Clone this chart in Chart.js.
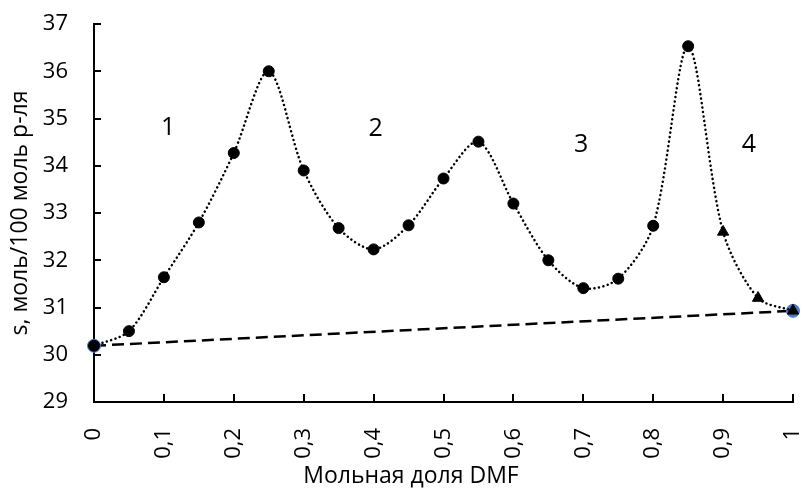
<!DOCTYPE html>
<html>
<head>
<meta charset="utf-8">
<script src="https://cdn.jsdelivr.net/npm/chart.js@4.4.1/dist/chart.umd.min.js"></script>
<style>
  html, body { margin: 0; padding: 0; background: #fff; }
  #wrap { width: 802px; height: 488px; }
</style>
</head>
<body>
<div id="wrap"><canvas id="dmfChart" width="802" height="488"></canvas></div>
<script>
// mole fraction of DMF and solubility s (mol / 100 mol solvent)
const molFraction = [0, 0.05, 0.1, 0.15, 0.2, 0.25, 0.3, 0.35, 0.4, 0.45, 0.5,
                     0.55, 0.6, 0.65, 0.7, 0.75, 0.8, 0.85, 0.9, 0.95, 1];
const solubility = [30.19, 30.5, 31.64, 32.8, 34.27, 36.0, 33.9, 32.68, 32.23, 32.74, 33.73,
                    34.51, 33.2, 32.0, 31.41, 31.61, 32.73, 36.53, 32.6, 31.2, 30.93];

// straight (additive) line between the two pure solvents
const idealX = [0, 1];
const idealY = [30.19, 30.93];

// region numbers
const regionText = ['1', '2', '3', '4'];
const regionX = [0.106, 0.403, 0.697, 0.937];
const regionY = [34.8, 34.77, 34.44, 34.45];

const xTickLabels = ['0', '0,1', '0,2', '0,3', '0,4', '0,5', '0,6', '0,7', '0,8', '0,9', '1'];
const xTitle = 'Мольная доля DMF';
const yTitle = 's, моль/100 моль р-ля';

Chart.defaults.font.family = '"Open Sans", sans-serif';
Chart.defaults.color = '#000';

// numbers 1-4 and the axis titles
const textPlugin = {
  id: 'textPlugin',
  afterDraw(chart) {
    const { ctx, scales: { x, y } } = chart;
    ctx.save();
    ctx.fillStyle = '#000';
    ctx.textAlign = 'center';
    ctx.textBaseline = 'middle';
    ctx.font = '25px "Open Sans"';
    regionText.forEach((t, i) => {
      ctx.fillText(t, x.getPixelForValue(regionX[i]), y.getPixelForValue(regionY[i]));
    });
    ctx.textBaseline = 'alphabetic';
    ctx.font = '23px "Open Sans"';
    ctx.fillText(xTitle, 411, 483);
    ctx.translate(27, 213);
    ctx.rotate(-Math.PI / 2);
    ctx.fillText(yTitle, 0, 0);
    ctx.restore();
  }
};

const ctx = document.getElementById('dmfChart').getContext('2d');
new Chart(ctx, {
  type: 'line',
  data: {
    datasets: [{
      label: 's',
      data: molFraction.map((v, i) => ({ x: v, y: solubility[i] })),
      borderColor: '#000',
      borderWidth: 2.5,
      borderDash: [0.1, 4.4],
      borderCapStyle: 'round',
      tension: 0.3,
      fill: false,
      clip: false,
      pointStyle: molFraction.map((v, i) => i >= 18 ? 'triangle' : 'circle'),
      pointRadius: molFraction.map((v, i) => i >= 18 ? 6.5 : 5.5),
      pointBackgroundColor: '#000',
      pointBorderColor: '#000',
      pointBorderWidth: 1
    }, {
      label: 'ideal',
      data: idealX.map((v, i) => ({ x: v, y: idealY[i] })),
      borderColor: '#000',
      borderWidth: 2.5,
      borderDash: [12, 6],
      tension: 0,
      fill: false,
      clip: false,
      pointRadius: 6.5,
      pointBackgroundColor: '#4a7bc8',
      pointBorderColor: '#4a7bc8',
      pointBorderWidth: 1
    }]
  },
  options: {
    responsive: false,
    animation: false,
    events: [],
    layout: { padding: { top: 24, right: 9, bottom: 0, left: 0 } },
    plugins: {
      legend: { display: false },
      tooltip: { enabled: false }
    },
    scales: {
      x: {
        type: 'linear',
        min: 0,
        max: 1,
        ticks: {
          stepSize: 0.1,
          autoSkip: false,
          minRotation: 90,
          maxRotation: 90,
          padding: 34,
          color: '#000',
          font: { size: 22 },
          callback: (value, index) => xTickLabels[index]
        },
        grid: { drawOnChartArea: false, drawTicks: true, tickLength: -8, color: '#000', lineWidth: 2 },
        border: { color: '#000', width: 2 },
        afterFit: (scale) => { scale.height = 86; scale.paddingLeft = 0; scale.paddingRight = 0; }
      },
      y: {
        min: 29,
        max: 37,
        ticks: { stepSize: 1, padding: 33, color: '#000', font: { size: 22 } },
        grid: { drawOnChartArea: false, drawTicks: true, tickLength: -7, color: '#000', lineWidth: 2 },
        border: { color: '#000', width: 2 },
        afterFit: (scale) => { scale.width = 94; scale.paddingTop = 0; scale.paddingBottom = 0; }
      }
    }
  },
  plugins: [textPlugin]
});
</script>
</body>
</html>
